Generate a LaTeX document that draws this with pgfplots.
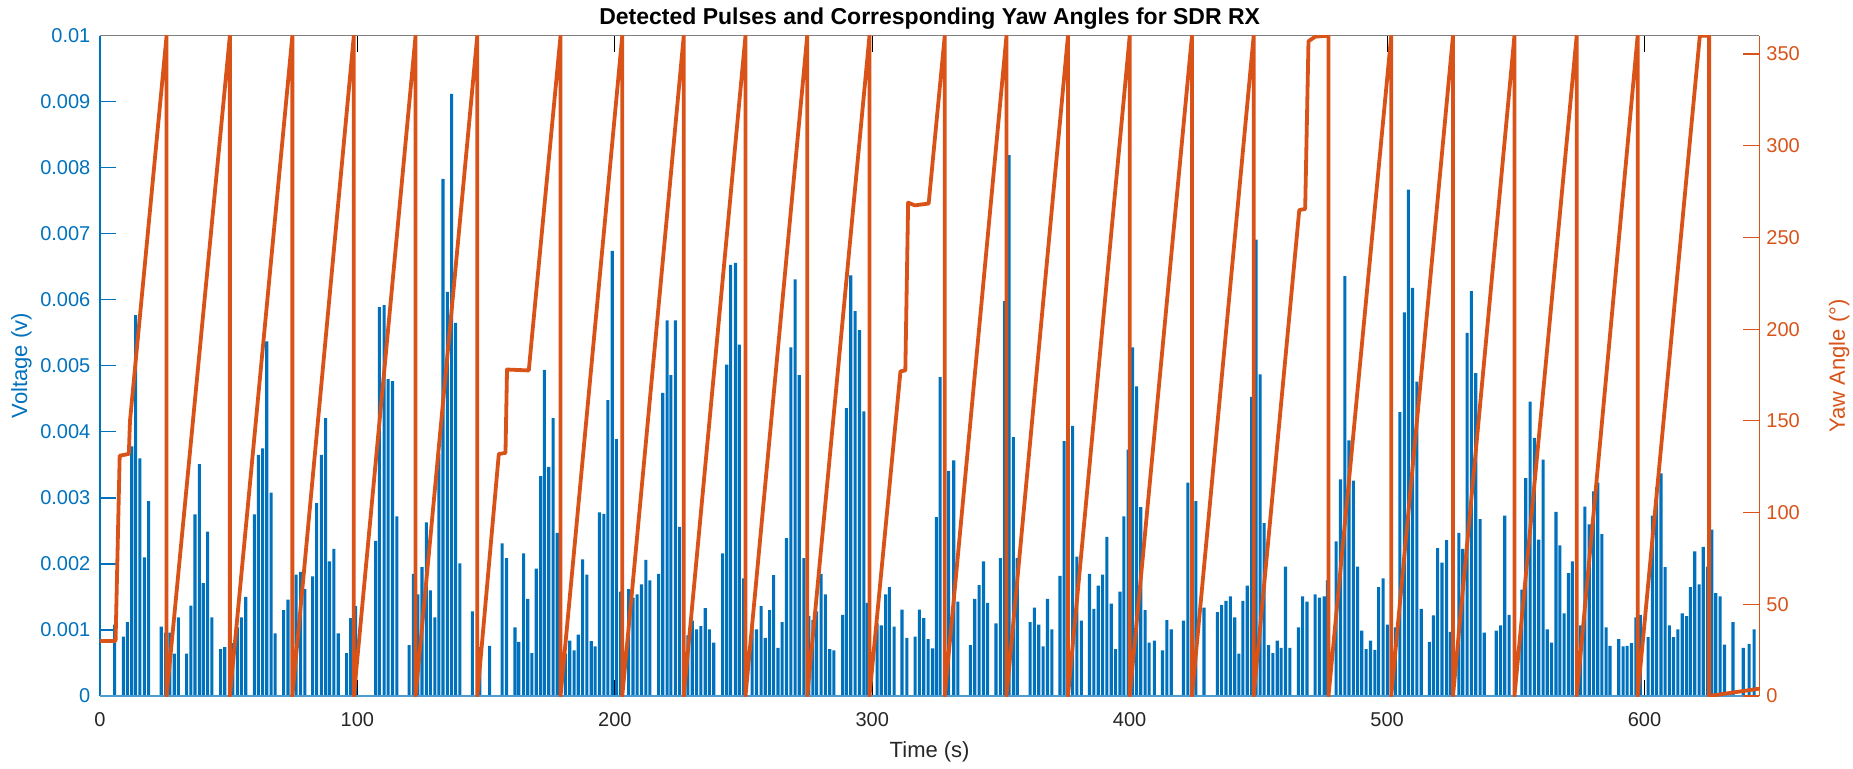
\documentclass[border=0pt]{standalone}
\usepackage{fontspec}
\setmainfont{Liberation Sans}
\usepackage{pgfplots}
\usepackage{pgfplotstable}
\pgfplotsset{compat=1.18}
\definecolor{mblue}{RGB}{0,114,189}
\definecolor{morange}{RGB}{217,83,25}
\definecolor{mgray}{RGB}{38,38,38}

\pgfplotstableread{
t v
5.71 0.00108
9.06 0.00090
10.65 0.00112
12.34 0.00378
13.83 0.00577
15.52 0.00360
17.21 0.00210
18.91 0.00295
23.78 0.00105
25.47 0.00096
27.17 0.00096
28.86 0.00064
30.45 0.00119
33.63 0.00064
35.33 0.00137
36.92 0.00275
38.61 0.00351
40.10 0.00171
41.79 0.00249
43.48 0.00119
46.87 0.00071
48.46 0.00074
51.64 0.00080
53.34 0.00104
54.93 0.00119
56.62 0.00150
60.00 0.00275
61.50 0.00365
63.19 0.00375
64.78 0.00537
66.47 0.00308
68.06 0.00095
71.35 0.00130
73.04 0.00146
76.22 0.00184
77.91 0.00188
79.61 0.00162
82.59 0.00181
84.18 0.00292
85.97 0.00365
87.67 0.00421
89.16 0.00204
90.85 0.00223
92.54 0.00095
95.83 0.00065
97.42 0.00118
99.31 0.00136
107.07 0.00235
108.56 0.00589
110.35 0.00592
111.95 0.00480
113.64 0.00477
115.33 0.00272
120.10 0.00077
121.80 0.00185
123.49 0.00154
125.08 0.00195
126.77 0.00263
128.36 0.00160
130.06 0.00119
131.65 0.00367
133.24 0.00783
134.93 0.00612
136.62 0.00912
138.12 0.00565
139.81 0.00201
144.68 0.00128
147.57 0.00074
151.35 0.00076
156.23 0.00231
157.92 0.00209
161.20 0.00104
162.69 0.00082
164.58 0.00216
166.18 0.00147
167.77 0.00065
169.46 0.00193
171.15 0.00333
172.64 0.00494
174.34 0.00347
176.03 0.00421
177.62 0.00247
180.80 0.00064
182.50 0.00084
184.19 0.00069
185.78 0.00093
187.47 0.00207
189.16 0.00184
190.85 0.00083
192.35 0.00075
194.04 0.00278
195.73 0.00276
197.32 0.00448
199.01 0.00674
200.61 0.00389
202.20 0.00158
205.38 0.00162
207.07 0.00149
208.67 0.00154
210.36 0.00169
212.05 0.00206
213.64 0.00175
217.02 0.00185
218.62 0.00459
220.31 0.00569
221.80 0.00486
223.49 0.00569
225.18 0.00256
228.37 0.00092
230.06 0.00114
231.75 0.00101
233.44 0.00106
235.14 0.00133
236.73 0.00101
238.42 0.00081
241.90 0.00216
243.49 0.00502
244.99 0.00653
246.88 0.00656
248.37 0.00532
250.06 0.00178
253.35 0.00102
255.04 0.00101
256.83 0.00136
258.42 0.00088
260.11 0.00130
261.70 0.00183
263.40 0.00073
264.99 0.00112
266.68 0.00239
268.37 0.00528
270.06 0.00631
271.65 0.00486
273.45 0.00209
275.34 0.00121
276.93 0.00115
278.42 0.00128
280.11 0.00185
281.80 0.00154
283.50 0.00071
285.09 0.00069
288.47 0.00123
289.96 0.00436
291.65 0.00637
293.35 0.00583
295.04 0.00554
296.73 0.00431
298.12 0.00141
301.90 0.00110
303.50 0.00107
305.19 0.00154
306.68 0.00165
308.47 0.00105
311.56 0.00131
313.45 0.00088
316.63 0.00090
318.32 0.00131
320.01 0.00118
321.71 0.00086
323.40 0.00072
324.89 0.00271
326.38 0.00483
329.67 0.00341
331.66 0.00357
333.25 0.00143
338.12 0.00077
339.82 0.00147
341.51 0.00168
343.20 0.00204
344.79 0.00141
348.08 0.00110
349.77 0.00209
351.46 0.00598
353.15 0.00819
354.84 0.00392
356.33 0.00209
361.31 0.00112
363.00 0.00134
364.69 0.00108
366.38 0.00075
368.08 0.00147
369.77 0.00101
372.95 0.00182
374.54 0.00386
376.14 0.00320
377.83 0.00409
379.52 0.00211
381.21 0.00114
384.40 0.00185
386.09 0.00132
387.78 0.00167
389.47 0.00184
391.16 0.00241
392.85 0.00140
394.55 0.00071
396.24 0.00158
397.73 0.00272
399.42 0.00373
401.11 0.00528
402.70 0.00469
404.30 0.00286
405.99 0.00130
407.58 0.00081
409.57 0.00084
412.76 0.00069
414.45 0.00115
416.14 0.00101
420.91 0.00114
422.61 0.00323
424.20 0.00250
425.69 0.00295
428.88 0.00134
434.05 0.00127
435.74 0.00138
437.43 0.00144
439.12 0.00151
440.82 0.00119
442.41 0.00064
444.00 0.00144
445.69 0.00167
447.38 0.00453
449.08 0.00691
450.67 0.00487
452.26 0.00262
453.95 0.00077
455.64 0.00065
457.33 0.00084
458.83 0.00073
460.52 0.00196
462.21 0.00073
465.59 0.00104
467.19 0.00151
468.88 0.00143
472.06 0.00154
473.75 0.00149
475.54 0.00151
476.84 0.00175
480.22 0.00234
481.91 0.00328
483.60 0.00636
485.20 0.00387
486.89 0.00326
488.58 0.00196
490.17 0.00099
491.86 0.00071
493.55 0.00084
495.25 0.00070
496.74 0.00165
498.43 0.00178
500.12 0.00108
503.21 0.00104
504.99 0.00430
506.69 0.00581
508.28 0.00767
509.87 0.00618
511.57 0.00476
513.26 0.00132
516.44 0.00082
518.03 0.00122
519.63 0.00224
521.32 0.00202
523.11 0.00236
524.60 0.00097
527.88 0.00247
529.38 0.00223
531.07 0.00550
532.76 0.00613
534.45 0.00489
536.14 0.00268
537.74 0.00096
542.41 0.00099
544.10 0.00107
545.70 0.00273
547.39 0.00123
552.36 0.00161
553.86 0.00330
555.55 0.00446
557.24 0.00391
558.93 0.00237
560.62 0.00358
562.21 0.00101
563.91 0.00081
565.60 0.00279
567.09 0.00228
568.78 0.00125
570.47 0.00186
571.97 0.00204
575.15 0.00107
576.84 0.00287
578.53 0.00260
580.23 0.00310
581.82 0.00323
583.41 0.00245
585.10 0.00104
586.59 0.00076
589.98 0.00086
591.67 0.00075
593.26 0.00076
594.95 0.00080
596.64 0.00119
598.34 0.00123
601.42 0.00089
603.11 0.00273
604.70 0.00316
606.40 0.00337
607.99 0.00195
609.68 0.00107
611.27 0.00089
612.96 0.00101
614.65 0.00125
616.35 0.00121
617.84 0.00165
619.53 0.00219
621.22 0.00169
622.81 0.00226
624.51 0.00196
626.20 0.00252
627.69 0.00156
629.38 0.00151
631.07 0.00078
634.36 0.00112
638.34 0.00073
640.63 0.00079
642.60 0.00101
}\pulses

\pgfplotstableread{
t yaw
0 30
6.05 30
7.65 131
11.2 132
11.65 150
25.87 360
25.87 0
50.45 360
50.45 0
74.73 360
74.73 0
98.61 360
98.61 0
122.59 360
122.59 0
146.57 360
146.57 0
154.93 132
157.52 132.5
158.12 178
166.57 177.5
178.91 360
178.91 0
202.89 360
202.89 0
226.78 360
226.78 0
250.76 360
250.76 0
274.74 360
274.74 0
298.92 360
298.92 0
310.96 177
312.85 177.5
313.94 269
316.5 267.5
321.91 268.5
328.17 360
328.17 0
352.15 360
352.15 0
376.04 360
376.04 0
400.02 360
400.02 0
424.20 360
424.20 0
448.18 360
448.18 0
465.89 265
468.18 265.5
469.47 357
472.1 359.5
477.24 360
477.24 0
501.61 360
501.61 0
525.60 360
525.60 0
549.48 360
549.48 0
573.66 360
573.66 0
597.34 360
597.34 0
621.5 360
625.10 360
625.10 0
644.6 4
}\yaw

\begin{document}
\begin{tikzpicture}
\begin{axis}[
  name=main,
  at={(0,0)}, anchor=south west,
  scale only axis, width=829.65pt, height=330.15pt,
  xmin=0, xmax=644.6, ymin=0, ymax=0.01,
  axis x line*=box, axis y line*=left,
  x axis line style={black!50, line width=0.6pt},
  y axis line style={mblue, line width=0.6pt},
  tick align=inside, major tick length=8pt,
  scaled y ticks=false, scaled x ticks=false,
  xtick={0,100,200,300,400,500,600},
  xticklabels={0,100,200,300,400,500,600},
  ytick={0,0.001,0.002,0.003,0.004,0.005,0.006,0.007,0.008,0.009,0.01},
  yticklabels={0,0.001,0.002,0.003,0.004,0.005,0.006,0.007,0.008,0.009,0.01},
  xtick style={black, line width=0.5pt},
  ytick style={mblue, line width=0.6pt},
  xticklabel style={font=\fontsize{10}{12}\selectfont, text=mgray, anchor=base, yshift=-15.3pt},
  yticklabel style={font=\fontsize{10}{12}\selectfont, text=mblue, xshift=-1.3pt},
  /pgf/number format/assume math mode=true,
  xlabel={Time (s)},
  xlabel style={font=\fontsize{11}{13}\selectfont, text=mgray, at={(axis description cs:0.5,0)}, anchor=base, yshift=-30.5pt},
  ylabel={Voltage (v)},
  ylabel style={font=\fontsize{11}{13}\selectfont, text=mblue, at={(axis description cs:-0.0474,0.5)}, anchor=center},
]
\addplot[ybar, bar width=1.2, fill=mblue, draw=none] table[x=t,y=v]{\pulses};
\addplot[mblue!70, line width=0.8pt] coordinates {(0,0) (644.6,0)};
\end{axis}
\begin{axis}[
  at={(0,0)}, anchor=south west,
  scale only axis, width=829.65pt, height=330.15pt,
  xmin=0, xmax=644.6, ymin=0, ymax=360,
  axis x line=none, axis y line*=right,
  y axis line style={morange, line width=0.6pt},
  tick align=inside, major tick length=8pt,
  ytick={0,50,100,150,200,250,300,350},
  yticklabels={0,50,100,150,200,250,300,350},
  ytick style={morange, line width=0.6pt},
  yticklabel style={font=\fontsize{10}{12}\selectfont, text=morange},
  /pgf/number format/assume math mode=true,
  ylabel={Yaw Angle (°)},
  ylabel style={font=\fontsize{11}{13}\selectfont, text=morange, at={(axis description cs:1.0482,0.5)}, anchor=center},
]
\addplot[morange, line width=1.9pt, line join=round] table[x=t,y=yaw]{\yaw};
\end{axis}
\node[font=\bfseries\fontsize{11.5}{14}\selectfont, anchor=base, yshift=5.6pt] at (main.north) {Detected Pulses and Corresponding Yaw Angles for SDR RX};
\pgfresetboundingbox
\path (-50pt,-36pt) rectangle (876.5pt,348pt);
\end{tikzpicture}
\end{document}
